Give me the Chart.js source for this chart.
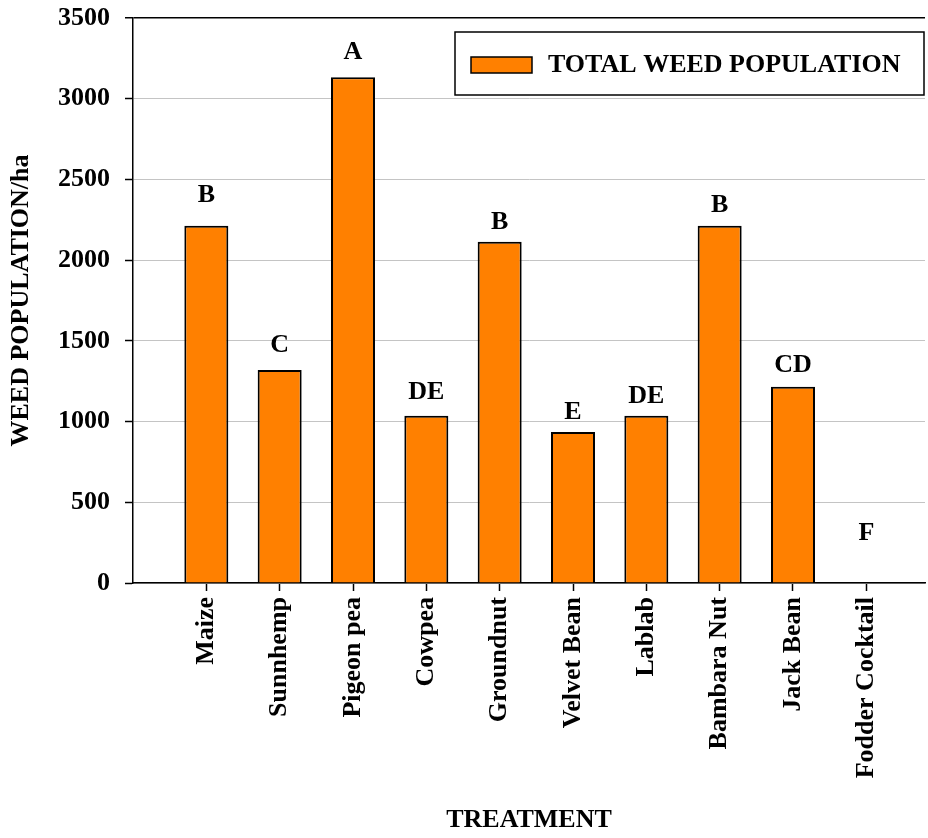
<!DOCTYPE html>
<html>
<head>
<meta charset="utf-8">
<script src="https://cdn.jsdelivr.net/npm/chart.js@4.4.1/dist/chart.umd.min.js"></script>
<style>
  html, body { margin: 0; padding: 0; background: #fff; }
  #wrap { width: 928px; height: 838px; }
</style>
</head>
<body>
<div id="wrap"><canvas id="myChart"></canvas></div>
<script>
var treatments = ["Maize", "Sunnhemp", "Pigeon pea", "Cowpea", "Groundnut", "Velvet Bean", "Lablab", "Bambara Nut", "Jack Bean", "Fodder Cocktail"];
var weedPopulation = [2213, 1319, 3133, 1036, 2114, 935, 1036, 2213, 1216, 0];
var letters = ["B", "C", "A", "DE", "B", "E", "DE", "B", "CD", "F"];
var letterHeights = [2362, 1433, 3244, 1138, 2191, 1014, 1113, 2300, 1309, 266];
var yTicks = [0, 500, 1000, 1500, 2000, 2500, 3000, 3500];

var serif = '"Liberation Serif", "Times New Roman", serif';
var boldFont = { family: serif, size: 26, weight: 'bold' };

// letters above each bar
var letterPlugin = {
    id: 'letters',
    afterDatasetsDraw: function (chart) {
        var c = chart.ctx;
        var meta = chart.getDatasetMeta(0);
        var y = chart.scales.y;
        c.save();
        c.font = 'bold 26px ' + serif;
        c.fillStyle = '#000';
        c.textAlign = 'center';
        c.textBaseline = 'alphabetic';
        meta.data.forEach(function (bar, i) {
            c.fillText(letters[i], bar.x, y.getPixelForValue(letterHeights[i]));
        });
        c.restore();
    }
};

// legend box inside the plot, top right
var boxLegend = {
    id: 'boxLegend',
    afterDraw: function (chart) {
        var c = chart.ctx;
        var area = chart.chartArea;
        var ds = chart.data.datasets[0];
        var right = area.right - 1, left = right - 469;
        var top = area.top + 14, h = 63;
        c.save();
        c.fillStyle = '#fff';
        c.fillRect(left, top, right - left, h);
        c.strokeStyle = '#000';
        c.lineWidth = 1.5;
        c.strokeRect(left, top, right - left, h);
        c.fillStyle = ds.backgroundColor;
        c.fillRect(left + 16, top + 25, 61, 16);
        c.strokeRect(left + 16, top + 25, 61, 16);
        c.fillStyle = '#000';
        c.font = 'bold 26px ' + serif;
        c.textBaseline = 'middle';
        c.textAlign = 'left';
        c.fillText(ds.label, left + 93, top + 33);
        c.restore();
    }
};

var ctx = document.getElementById("myChart");
var myChart = new Chart(ctx, {
    type: 'bar',
    data: {
        datasets: [{
            label: 'TOTAL WEED POPULATION',
            data: weedPopulation.map(function (v, i) { return { x: i, y: v }; }),
            backgroundColor: '#FF8000',
            borderColor: '#000',
            borderWidth: 2,
            barPercentage: 0.6,
            categoryPercentage: 1.0
        }]
    },
    options: {
        responsive: true,
        maintainAspectRatio: false,
        animation: false,
        layout: { padding: { top: 18, right: 3, left: 0, bottom: 0 } },
        plugins: {
            legend: { display: false },
            tooltip: { enabled: false }
        },
        scales: {
            x: {
                type: 'linear',
                offset: false,
                min: -1,
                max: 9.8,
                afterBuildTicks: function (scale) {
                    scale.ticks = treatments.map(function (t, i) { return { value: i }; });
                },
                afterFit: function (scale) { scale.height = 255; },
                grid: { offset: false, drawOnChartArea: false, drawTicks: true, tickLength: 8, tickColor: '#000', tickWidth: 1.5 },
                border: { color: '#000', width: 1.5 },
                ticks: {
                    autoSkip: false,
                    minRotation: 90,
                    maxRotation: 90,
                    padding: 6,
                    color: '#000',
                    font: boldFont,
                    callback: function (v) { return treatments[v]; }
                },
                title: {
                    display: true,
                    text: 'TREATMENT',
                    color: '#000',
                    font: boldFont,
                    padding: { top: 0, bottom: 2 }
                }
            },
            y: {
                min: 0,
                max: 3500,
                afterBuildTicks: function (scale) {
                    scale.ticks = yTicks.map(function (v) { return { value: v }; });
                },
                afterFit: function (scale) {
                    scale.width = 133;
                    scale.paddingTop = 0;
                    scale.paddingBottom = 0;
                },
                grid: {
                    color: function (c) { return c.tick && c.tick.value === 3500 ? '#000' : '#c4c4c4'; },
                    lineWidth: function (c) { return c.tick && c.tick.value === 3500 ? 1.5 : 1; },
                    tickColor: '#000',
                    tickLength: 8,
                    tickWidth: 1.5
                },
                border: { color: '#000', width: 1.5 },
                ticks: {
                    padding: 15,
                    color: '#000',
                    font: boldFont,
                    callback: function (v) { return String(v); }
                },
                title: {
                    display: true,
                    text: 'WEED POPULATION/ha',
                    color: '#000',
                    font: boldFont,
                    padding: { top: 6, bottom: 0 }
                }
            }
        }
    },
    plugins: [letterPlugin, boxLegend]
});
</script>
</body>
</html>
